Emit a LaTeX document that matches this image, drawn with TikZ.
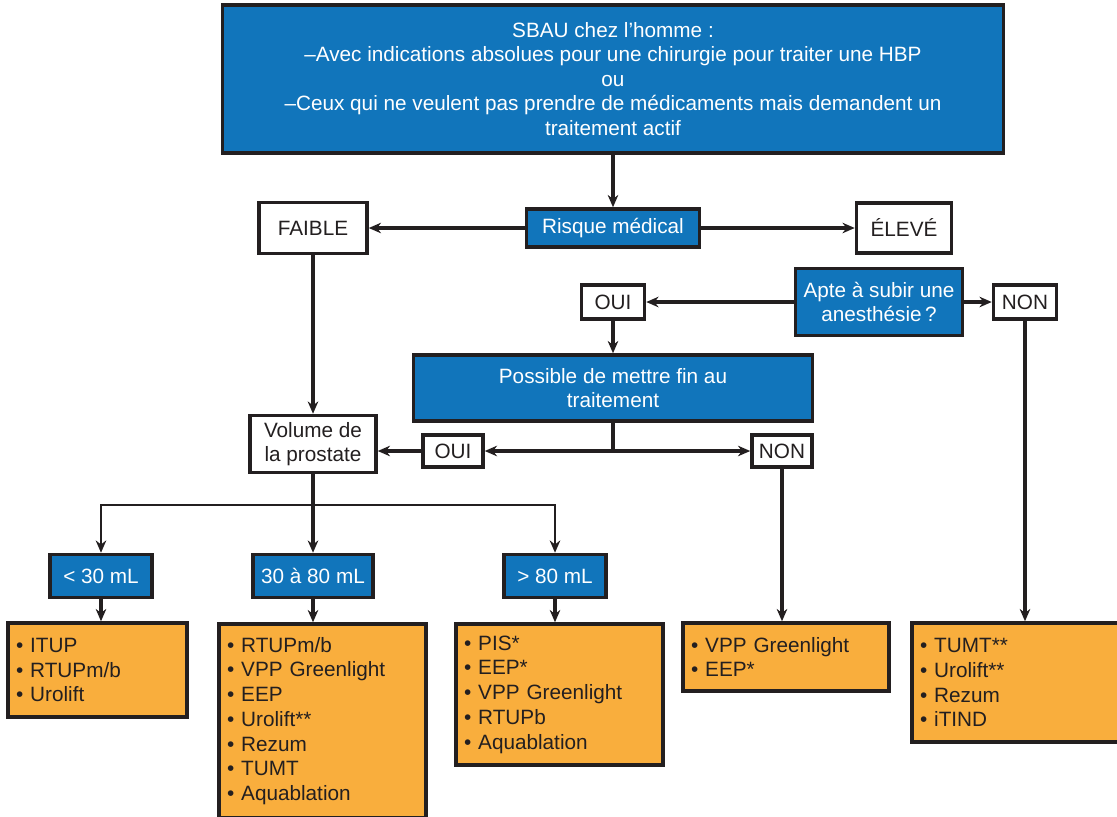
\documentclass[tikz,border=0pt]{standalone}
\usepackage{fontspec}
\setmainfont{Liberation Sans}
\usepackage{tikz}
\usetikzlibrary{
    arrows.meta,
    positioning
}
\usepackage{xcolor}
\definecolor{sbaublue}{HTML}{1175BB}
\definecolor{sbauorange}{HTML}{F9AE3D}
\definecolor{sbauink}{HTML}{231F20}
\newcommand{\puce}{\textbullet~}

\begin{document}
\begin{tikzpicture}[
        x=0.02cm, y=-0.02cm,
        >={Stealth[length=7pt,width=6pt]},
        font=\fontsize{11.8}{13.9}\selectfont,
        box/.style={
            draw=sbauink,
            line width=2pt,
            inner sep=0pt,
            align=center
        },
        bluebox/.style={box, fill=sbaublue, text=white},
        whitebox/.style={box, fill=white, text=sbauink},
        orangebox/.style={
            box,
            fill=sbauorange,
            text=sbauink,
            align=left,
            inner xsep=0.16cm,
            font=\fontsize{11.8}{14.1}\selectfont
        },
        link/.style={->, draw=sbauink, line width=1.8pt},
        fork/.style={draw=sbauink, line width=1.2pt}
    ]
        \useasboundingbox (0,0) rectangle (1117,816);

        % decision boxes
        \node[bluebox, minimum width=15.62cm, minimum height=2.96cm] (sbau) at (613,79)
            {SBAU chez l’homme :\\
             –Avec indications absolues pour une chirurgie pour traiter une HBP\\
             ou\\
             –Ceux qui ne veulent pas prendre de médicaments mais demandent un\\
             traitement actif};
        \node[bluebox, minimum width=3.46cm, minimum height=0.76cm] (risque) at (613,228) {Risque médical};
        \node[whitebox, minimum width=2.16cm, minimum height=1.02cm] (faible) at (313,228) {FAIBLE};
        \node[whitebox, minimum width=1.9cm, minimum height=1cm] (eleve) at (904,228) {ÉLEVÉ};
        \node[bluebox, minimum width=3.34cm, minimum height=1.34cm] (apte) at (879,302) {Apte à subir une\\anesthésie\,?};
        \node[whitebox, minimum width=1.26cm, minimum height=0.68cm] (ouihaut) at (613,302) {OUI};
        \node[whitebox, minimum width=1.26cm, minimum height=0.68cm] (nonhaut) at (1025,302) {NON};
        \node[bluebox, minimum width=7.98cm, minimum height=1.32cm] (arret) at (613,388) {Possible de mettre fin au\\traitement};
        \node[whitebox, minimum width=2.52cm, minimum height=1.14cm] (volume) at (313,444) {Volume de\\la prostate};
        \node[whitebox, minimum width=1.2cm, minimum height=0.64cm] (ouibas) at (453,451) {OUI};
        \node[whitebox, minimum width=1.2cm, minimum height=0.64cm] (nonbas) at (782,451) {NON};

        % prostate volume
        \node[bluebox, minimum width=2.04cm, minimum height=0.86cm] (petit) at (101,576) {< 30 mL};
        \node[bluebox, minimum width=2.4cm, minimum height=0.86cm] (moyen) at (313,576) {30 à 80 mL};
        \node[bluebox, minimum width=2.04cm, minimum height=0.86cm] (gros) at (555,576) {> 80 mL};

        % treatments
        \node[orangebox, text width=3.26cm, minimum height=1.88cm] (liste1) at (97.5,670)
            {\puce ITUP\\\puce RTUPm/b\\\puce Urolift};
        \node[orangebox, text width=3.82cm, minimum height=3.88cm] (liste2) at (322.5,721)
            {\puce RTUPm/b\\\puce VPP Greenlight\\\puce EEP\\\puce Urolift**\\\puce Rezum\\\puce TUMT\\\puce Aquablation};
        \node[orangebox, text width=3.82cm, minimum height=2.82cm] (liste3) at (559.5,694.5)
            {\puce PIS*\\\puce EEP*\\\puce VPP Greenlight\\\puce RTUPb\\\puce Aquablation};
        \node[orangebox, text width=3.8cm, minimum height=1.36cm] (liste4) at (786,657)
            {\puce VPP Greenlight\\\puce EEP*};
        \node[orangebox, text width=3.88cm, minimum height=2.38cm] (liste5) at (1017,682.5)
            {\puce TUMT**\\\puce Urolift**\\\puce Rezum\\\puce iTIND};

        \coordinate (choix) at (613,451);
        \coordinate (branche) at (313,505);

        \draw[link] (sbau) -- (risque);
        \draw[link] (risque) -- (faible);
        \draw[link] (risque) -- (eleve);
        \draw[link] (apte) -- (ouihaut);
        \draw[link] (apte) -- (nonhaut);
        \draw[link] (ouihaut) -- (arret);
        \draw[draw=sbauink, line width=1.8pt] (arret) -- (choix);
        \draw[link] (choix) -- (ouibas);
        \draw[link] (choix) -- (nonbas);
        \draw[link] (ouibas.west) -- (ouibas.west -| volume.east);
        \draw[link] (faible) -- (volume);
        \draw[link] (volume) -- (moyen);
        \draw[fork, ->] (branche) -| (petit);
        \draw[fork, ->] (branche) -| (gros);
        \draw[link] (petit) -- (petit |- liste1.north);
        \draw[link] (moyen) -- (moyen |- liste2.north);
        \draw[link] (gros) -- (gros |- liste3.north);
        \draw[link] (nonbas) -- (nonbas |- liste4.north);
        \draw[link] (nonhaut) -- (nonhaut |- liste5.north);
    \end{tikzpicture}
\end{document}
